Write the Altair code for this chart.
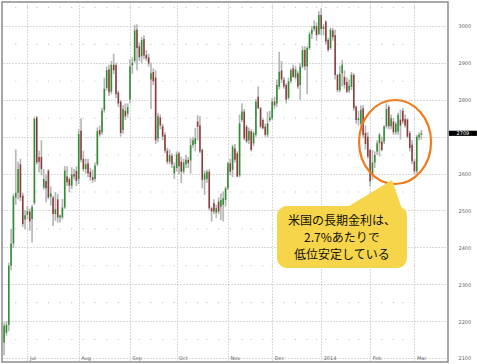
import altair as alt
import pandas as pd
import numpy as np

# ---------------- data ----------------
first_day = "2013-06-17"
last_day = "2014-03-06"
bond_holidays = ["2013-07-04", "2013-09-02", "2013-10-14", "2013-11-11", "2013-11-28",
                 "2013-12-25", "2014-01-01", "2014-01-20", "2014-02-17"]

opens = [2142, 2168, 2190, 2350, 2410, 2535, 2548, 2625, 2540, 2475,
         2488, 2497, 2477, 2520, 2752, 2645, 2645, 2562, 2580, 2608,
         2537, 2535, 2490, 2530, 2481, 2481, 2508, 2592, 2585, 2567,
         2598, 2607, 2585, 2716, 2640, 2612, 2628, 2605, 2590, 2585,
         2625, 2718, 2712, 2772, 2832, 2882, 2822, 2895, 2894, 2820,
         2795, 2718, 2770, 2762, 2800, 2893, 2905, 2990, 2945, 2918,
         2965, 2922, 2915, 2855, 2875, 2860, 2695, 2752, 2728, 2705,
         2662, 2632, 2648, 2600, 2615, 2655, 2632, 2605, 2625, 2637,
         2635, 2677, 2680, 2741, 2730, 2664, 2583, 2585, 2605, 2506,
         2520, 2494, 2524, 2510, 2515, 2528, 2560, 2628, 2610, 2668,
         2655, 2595, 2745, 2768, 2727, 2690, 2714, 2682, 2705, 2808,
         2777, 2745, 2727, 2705, 2745, 2750, 2795, 2790, 2835, 2879,
         2855, 2840, 2805, 2850, 2885, 2860, 2872, 2840, 2890, 2935,
         2890, 2940, 2978, 2992, 3000, 2978, 3030, 2992, 3012, 2962,
         2940, 2988, 2975, 2867, 2826, 2872, 2862, 2848, 2825, 2835,
         2867, 2781, 2745, 2735, 2777, 2710, 2700, 2664, 2597, 2630,
         2660, 2682, 2687, 2687, 2728, 2780, 2728, 2741, 2712, 2714,
         2746, 2770, 2748, 2746, 2710, 2678, 2633, 2606, 2697, 2705]
highs = [2196, 2200, 2358, 2450, 2545, 2665, 2632, 2640, 2548, 2500,
         2512, 2505, 2515, 2754, 2756, 2662, 2690, 2612, 2597, 2612,
         2565, 2540, 2550, 2545, 2489, 2531, 2620, 2620, 2590, 2617,
         2612, 2620, 2720, 2750, 2662, 2640, 2640, 2615, 2610, 2630,
         2725, 2730, 2778, 2860, 2890, 2895, 2905, 2925, 2900, 2825,
         2800, 2785, 2790, 2790, 2910, 2915, 3003, 3005, 2955, 2970,
         2975, 2935, 2925, 2900, 2885, 2880, 2765, 2760, 2735, 2712,
         2670, 2665, 2655, 2630, 2660, 2660, 2646, 2640, 2650, 2645,
         2696, 2700, 2723, 2758, 2755, 2668, 2608, 2610, 2612, 2510,
         2530, 2515, 2535, 2546, 2552, 2565, 2632, 2640, 2678, 2680,
         2660, 2760, 2790, 2775, 2732, 2725, 2720, 2715, 2802, 2836,
         2780, 2750, 2735, 2768, 2770, 2805, 2808, 2855, 2930, 2905,
         2862, 2845, 2860, 2885, 2895, 2892, 2878, 2900, 2945, 2945,
         2945, 2985, 3000, 3015, 3010, 3040, 3048, 3005, 3015, 2968,
         2995, 2995, 2990, 2870, 2892, 2908, 2880, 2860, 2855, 2875,
         2872, 2785, 2770, 2785, 2785, 2730, 2712, 2668, 2664, 2660,
         2690, 2710, 2700, 2730, 2790, 2786, 2760, 2750, 2740, 2765,
         2773, 2778, 2760, 2750, 2715, 2690, 2640, 2705, 2712, 2718]
lows = [2107, 2160, 2172, 2338, 2398, 2515, 2530, 2525, 2455, 2448,
        2475, 2445, 2413, 2515, 2625, 2603, 2595, 2556, 2522, 2530,
        2513, 2458, 2472, 2467, 2467, 2476, 2504, 2567, 2549, 2558,
        2584, 2566, 2571, 2630, 2605, 2600, 2590, 2580, 2575, 2578,
        2620, 2700, 2705, 2765, 2825, 2810, 2815, 2870, 2805, 2780,
        2700, 2708, 2745, 2752, 2790, 2870, 2900, 2880, 2905, 2900,
        2910, 2905, 2890, 2775, 2840, 2680, 2685, 2720, 2690, 2655,
        2625, 2625, 2615, 2585, 2605, 2598, 2574, 2600, 2615, 2615,
        2600, 2670, 2660, 2690, 2655, 2560, 2542, 2575, 2500, 2470,
        2490, 2480, 2490, 2474, 2470, 2510, 2555, 2595, 2590, 2630,
        2590, 2590, 2740, 2690, 2682, 2680, 2660, 2675, 2700, 2775,
        2722, 2720, 2700, 2698, 2740, 2745, 2775, 2780, 2828, 2845,
        2830, 2790, 2800, 2845, 2860, 2855, 2830, 2800, 2885, 2880,
        2815, 2935, 2965, 2985, 2960, 2975, 2975, 2975, 2950, 2930,
        2935, 2960, 2855, 2820, 2820, 2836, 2830, 2818, 2818, 2826,
        2770, 2735, 2730, 2725, 2695, 2665, 2640, 2565, 2583, 2615,
        2650, 2646, 2660, 2680, 2722, 2720, 2720, 2705, 2705, 2705,
        2692, 2735, 2725, 2695, 2660, 2625, 2597, 2600, 2690, 2692]
closes = [2187, 2190, 2350, 2410, 2538, 2548, 2612, 2535, 2463, 2487,
          2498, 2470, 2510, 2748, 2630, 2632, 2612, 2585, 2560, 2535,
          2546, 2490, 2503, 2481, 2486, 2508, 2608, 2576, 2567, 2598,
          2592, 2580, 2707, 2637, 2612, 2625, 2600, 2590, 2583, 2622,
          2715, 2706, 2770, 2830, 2880, 2820, 2895, 2880, 2815, 2790,
          2710, 2775, 2755, 2780, 2890, 2900, 2988, 2940, 2915, 2962,
          2920, 2912, 2898, 2872, 2850, 2690, 2755, 2730, 2700, 2662,
          2632, 2650, 2625, 2620, 2652, 2620, 2605, 2630, 2637, 2628,
          2677, 2690, 2696, 2727, 2660, 2583, 2600, 2605, 2506, 2497,
          2497, 2506, 2497, 2528, 2533, 2560, 2628, 2605, 2673, 2637,
          2592, 2736, 2768, 2695, 2687, 2715, 2664, 2710, 2795, 2777,
          2727, 2723, 2705, 2736, 2752, 2795, 2785, 2840, 2876, 2855,
          2836, 2800, 2850, 2880, 2862, 2882, 2836, 2890, 2935, 2890,
          2940, 2978, 2990, 3000, 2975, 3030, 2992, 2998, 2958, 2935,
          2990, 2970, 2867, 2826, 2870, 2895, 2840, 2822, 2838, 2868,
          2777, 2745, 2750, 2773, 2705, 2680, 2646, 2579, 2630, 2650,
          2682, 2705, 2664, 2728, 2775, 2728, 2750, 2712, 2735, 2759,
          2730, 2741, 2730, 2700, 2669, 2633, 2606, 2700, 2706, 2709]

y_ticks = [2100, 2200, 2300, 2400, 2500, 2600, 2700, 2800, 2900, 3000]
minor_levels = [2150, 2250, 2350, 2450, 2550, 2650, 2750, 2850, 2950, 3050]
month_names = {7: "Jul", 8: "Aug", 9: "Sep", 10: "Oct", 11: "Nov", 12: "Dec",
               1: "2014", 2: "Feb", 3: "Mar"}
callout_lines = ["米国の長期金利は、", "2.7%あたりで", "低位安定している"]

# ---------------- layout / annotation anchors (data coordinates) ----------------
X_DOMAIN = [-0.9, 190.4]
Y_DOMAIN = [2089, 3065]
ELLIPSE = {"i": 167.7, "v": 2685.4}
BOX = {"i": 117.05, "i2": 172.8, "v": 2511.9, "v2": 2343.8}
POINTER = {"i": 157.4, "v": 2539.0}
TEXT_POS = {"i": 144.9, "v": 2471.3}
BADGE = {"i": 190.8, "i2": 202.8, "it": 196.8}

YELLOW = "#F6D54A"
ORANGE = "#F07A1E"
GRID = "#b4b4b4"

# ---------------- build tables ----------------
dates = pd.bdate_range(first_day, last_day)
dates = dates[~dates.isin(pd.to_datetime(bond_holidays))]
n = len(dates)
assert n == len(opens) == len(highs) == len(lows) == len(closes)

df = pd.DataFrame({"i": np.arange(n), "date": dates, "o": opens, "h": highs,
                   "l": lows, "c": closes})
df["dir"] = np.where(df["c"] >= df["o"], "up", "down")

month_change = df["date"].dt.month != df["date"].dt.month.shift()
month_starts = df[month_change].iloc[1:]
tick_vals = month_starts["i"].tolist()
label_expr = "".join(
    f"datum.value == {int(r.i)} ? '{month_names[r.date.month]}' : "
    for r in month_starts.itertuples()) + "''"

week = df["date"].dt.isocalendar().week
week_starts = df[week != week.shift()]["i"].tolist()
dots = pd.DataFrame([(w, lv) for w in week_starts for lv in minor_levels],
                    columns=["i", "v"])

last_close = int(df["c"].iloc[-1])
badge_level = int(round(last_close, -2))

xs = alt.Scale(domain=X_DOMAIN, nice=False, zero=False)
ys = alt.Scale(domain=Y_DOMAIN, nice=False, zero=False)

x_axis = alt.Axis(values=tick_vals, labelExpr=label_expr, grid=True, gridDash=[1, 2],
                  gridColor=GRID, ticks=False, domain=False, labelAlign="left",
                  labelOffset=2, labelPadding=-6.5, labelFontSize=5, labelColor="#666",
                  labelFont="DejaVu Sans", title=None)
y_axis = alt.Axis(values=y_ticks, orient="right", grid=True, gridDash=[1, 2],
                  gridColor=GRID, ticks=False, domain=False, labelPadding=10,
                  labelExpr=f"datum.value == {badge_level} ? '' : format(datum.value, 'd')",
                  labelFontSize=5, labelColor="#666", labelFont="DejaVu Sans", title=None)


def X(field):
    return alt.X(field, type="quantitative", scale=xs, axis=x_axis)


def Y(field):
    return alt.Y(field, type="quantitative", scale=ys, axis=y_axis)


base = alt.Chart(df)

minor = alt.Chart(dots).mark_square(size=1.2, color="#c4c4c4", opacity=1).encode(
    x=X("i"), y=Y("v"))

wicks = base.mark_rule(color="#b8b8b8", strokeWidth=1.7).encode(
    x=X("i"), y=Y("l"), y2="h:Q")

bodies = base.mark_rule(strokeWidth=1.5).encode(
    x=X("i"), y=Y("o"), y2="c:Q",
    color=alt.Color("dir:N", scale=alt.Scale(domain=["up", "down"],
                                             range=["#2f8f2f", "#8e3b3b"]), legend=None))

ell_path = "M -0.857 0 A 0.857 1 0 1 0 0.857 0 A 0.857 1 0 1 0 -0.857 0 Z"
ellipse = alt.Chart(pd.DataFrame([ELLIPSE])).mark_point(
    shape=ell_path, size=7056, filled=False, stroke=ORANGE, strokeWidth=2.2, opacity=1
).encode(x=X("i"), y=Y("v"))

tri_path = "M -1 0.5 L 1 0.5 L 0.656 -0.5 Z"
pointer = alt.Chart(pd.DataFrame([POINTER])).mark_point(
    shape=tri_path, size=4096, filled=True, fill=YELLOW, strokeWidth=0, opacity=1
).encode(x=X("i"), y=Y("v"))

box = alt.Chart(pd.DataFrame([BOX])).mark_rect(cornerRadius=10, color=YELLOW).encode(
    x=X("i"), x2="i2:Q", y=Y("v"), y2="v2:Q")

text = alt.Chart(pd.DataFrame([TEXT_POS])).mark_text(
    text=callout_lines, font="Noto Sans CJK JP", fontSize=12, lineHeight=17,
    align="center", baseline="middle", color="#111"
).encode(x=X("i"), y=Y("v"))

last = df.iloc[[-1]].copy()
last["i1"] = BADGE["i"]
last["i2"] = BADGE["i2"]
last["it"] = BADGE["it"]
last["vt"] = last["c"] + 7
last["vb"] = last["c"] - 7
last["lab"] = last["c"].astype(str)
badge = alt.Chart(last).mark_rect(color="black").encode(
    x=X("i1"), x2="i2:Q", y=Y("vt"), y2="vb:Q")
badge_text = alt.Chart(last).mark_text(fontSize=5, color="white", font="DejaVu Sans",
                                       align="center", baseline="middle").encode(
    x=X("it"), y=Y("c"), text="lab:N")

chart = alt.layer(minor, wicks, bodies, ellipse, pointer, box, text, badge, badge_text).properties(
    width=446, height=360,
    padding={"left": 2, "top": 2, "right": 29, "bottom": 2},
    autosize=alt.AutoSizeParams(type="none"),
    background="white",
).configure_view(stroke="#8c8c8c", strokeWidth=1.5)

chart.save("out.html", embed_options={"renderer": "svg", "actions": False})
